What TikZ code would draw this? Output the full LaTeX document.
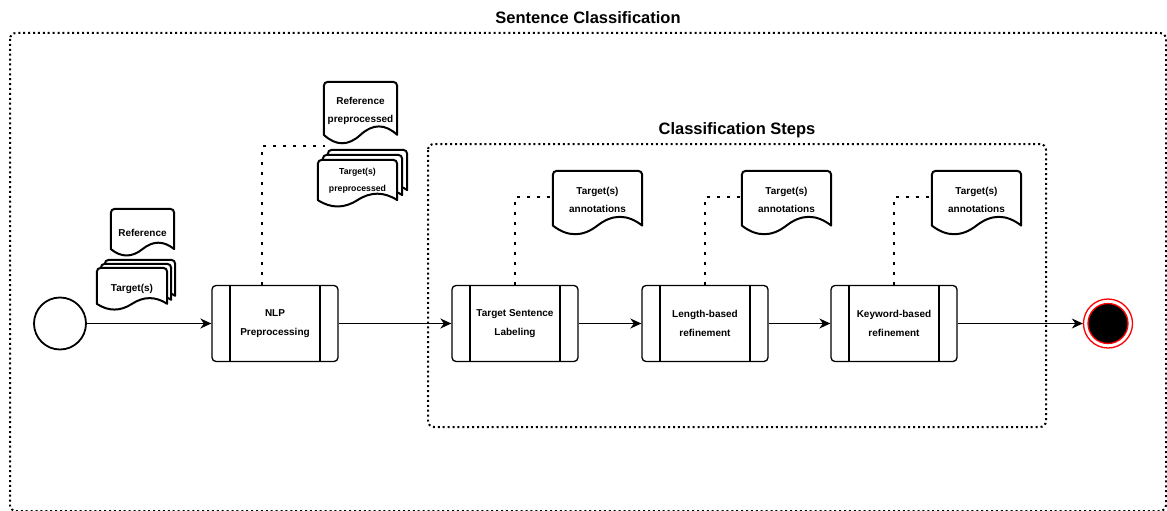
\documentclass[tikz,border=0pt]{standalone}
\usepackage{fontspec}
\setmainfont{Liberation Sans}
\usetikzlibrary{arrows.meta,calc,backgrounds}

\tikzset{
  txt/.style={font=\bfseries\fontsize{10}{18}\selectfont, align=center, inner sep=0pt},
  smalltxt/.style={font=\bfseries\fontsize{8.7}{17}\selectfont, align=center, inner sep=0pt},
  titletxt/.style={font=\bfseries\fontsize{16.5}{20}\selectfont, inner sep=0pt},
  frame/.style={draw, line width=2pt, dash pattern=on 2pt off 2.9pt, rounded corners=6pt},
  proc/.style={font=\bfseries\fontsize{10}{19}\selectfont, align=center, inner sep=0pt,
    draw, line width=1.3pt, rounded corners=4pt,
    minimum width=126pt, minimum height=76pt,
    path picture={\draw[line width=1.2pt]
      ([xshift=18pt]path picture bounding box.north west) -- ([xshift=18pt]path picture bounding box.south west)
      ([xshift=-18pt]path picture bounding box.north east) -- ([xshift=-18pt]path picture bounding box.south east);}},
  docline/.style={draw, fill=white, line width=2pt, line join=round},
  flow/.style={draw, line width=1.4pt, -{Stealth[length=11pt,width=10pt,inset=3.5pt]}},
  assoc/.style={draw, line width=2.5pt, dash pattern=on 2.5pt off 7.5pt},
  startev/.style={circle, draw, line width=1.8pt, minimum size=52pt, inner sep=0pt},
  endring/.style={circle, draw=red, fill=white, line width=1.3pt, minimum size=49pt, inner sep=0pt},
  endcore/.style={circle, draw=red, fill=black, line width=1.3pt, minimum size=40pt, inner sep=0pt},
}

% Document outline (rounded top, wavy bottom) around a node.
% #1: offset up and to the right for stacked copies, #2: node, #3: extra depth below the node.
\newcommand\docoutline[3][0]{%
  \draw[docline] let \p1=($(#2.north west)+(#1,-#1)$), \p2=($(#2.south east)+(#1,-#1)+(0,#3)$),
      \n1={\x2-\x1}, \n2={0.3*(\y1-\y2)} in
    (\x1,{\y2+0.5*\n2}) -- (\x1,{\y1-4pt}) arc[start angle=180,end angle=90,radius=4pt]
    -- ({\x2-4pt},\y1) arc[start angle=90,end angle=0,radius=4pt]
    -- (\x2,{\y2+0.5*\n2})
    .. controls ({\x2-\n1/6},{\y2+1.1*\n2}) and ({\x1+2*\n1/3},{\y2+1.1*\n2}) .. ({\x1+\n1/2},{\y2+0.5*\n2})
    .. controls ({\x1+\n1/3},{\y2-0.1*\n2}) and ({\x1+\n1/6},{\y2-0.1*\n2}) .. (\x1,{\y2+0.5*\n2})
    -- cycle;}

\begin{document}
\begin{tikzpicture}[x=1pt,y=-1pt]
\useasboundingbox (0,0) rectangle (1167,511);

% containers
\node[titletxt] (title) at (588,18) {Sentence Classification};
\draw[frame] (10,33) rectangle (1166,511);
\node[titletxt] (stitle) at (737,130) {Classification Steps};
\draw[frame] (428,144) rectangle (1046,427);

% events and activities
\node[startev] (start) at (60,323.5) {};
\node[proc] (nlp) at (275,323.5) {NLP\\Preprocessing};
\node[proc] (tsl) at (515,323.5) {Target Sentence\\Labeling};
\node[proc] (lb)  at (705,323.5) {Length-based\\refinement};
\node[proc] (kb)  at (894,323.5) {Keyword-based\\refinement};
\node[endring] (finish) at (1108,323.5) {};
\node[endcore] (finishcore) at (finish) {};

% data objects
\node[txt, minimum width=63pt, minimum height=47pt] (ref) at (142.5,232.5) {Reference};
\node[txt, minimum width=70pt, minimum height=42pt] (tgt) at (132,289) {Target(s)};
\node[txt, minimum width=73pt, minimum height=58pt] (refpre) at (360.5,111) {Reference\\preprocessed};
\node[smalltxt, minimum width=79pt, minimum height=41pt] (tgtpre) at (357.5,180.5) {Target(s)\\preprocessed};
\node[txt, minimum width=89pt, minimum height=57pt] (ann1) at (597.5,199.5) {Target(s)\\annotations};
\node[txt, minimum width=89pt, minimum height=57pt] (ann2) at (786.5,199.5) {Target(s)\\annotations};
\node[txt, minimum width=89pt, minimum height=57pt] (ann3) at (976.5,199.5) {Target(s)\\annotations};

\begin{scope}[on background layer]
  \docoutline{ref}{0}
  \docoutline[8]{tgt}{0}
  \docoutline[4]{tgt}{0}
  \docoutline{tgt}{0}
  \docoutline{refpre}{4}
  \docoutline[10]{tgtpre}{6}
  \docoutline[5]{tgtpre}{6}
  \docoutline{tgtpre}{6}
  \docoutline{ann1}{7}
  \docoutline{ann2}{7}
  \docoutline{ann3}{7}
\end{scope}

% sequence flow
\draw[flow] (start) -- (nlp);
\draw[flow] (nlp) -- (tsl);
\draw[flow] (tsl) -- (lb);
\draw[flow] (lb) -- (kb);
\draw[flow] (kb) -- (finish);

% data associations
\coordinate (tgtpre-link) at (325,146);
\draw[assoc] ([xshift=-13pt]nlp.north) |- (tgtpre-link);
\draw[assoc] (tsl.north) |- ([yshift=2.5pt]ann1.west);
\draw[assoc] (lb.north) |- ([yshift=2.5pt]ann2.west);
\draw[assoc] (kb.north) |- ([yshift=2.5pt]ann3.west);
\end{tikzpicture}
\end{document}
